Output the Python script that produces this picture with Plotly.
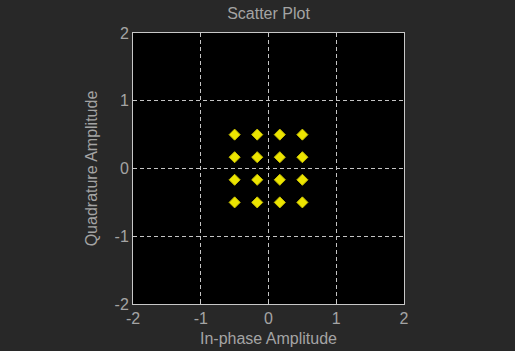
import plotly.graph_objects as go

# 16-QAM constellation points (in-phase, quadrature)
in_phase = [-0.5, -0.1667, 0.1667, 0.5,
            -0.5, -0.1667, 0.1667, 0.5,
            -0.5, -0.1667, 0.1667, 0.5,
            -0.5, -0.1667, 0.1667, 0.5]
quadrature = [0.5, 0.5, 0.5, 0.5,
              0.1667, 0.1667, 0.1667, 0.1667,
              -0.1667, -0.1667, -0.1667, -0.1667,
              -0.5, -0.5, -0.5, -0.5]
tick_vals = [-2, -1, 0, 1, 2]
tick_text = ["-2", "-1", "0", "1", "2"]

fg = "#a4a4a4"
fig = go.Figure()
fig.add_trace(go.Scatter(
    x=in_phase, y=quadrature, mode="markers",
    marker=dict(symbol="diamond", size=8.5, color="#ece400",
                line=dict(width=1, color="#c8c000")),
    showlegend=False,
))

axis_common = dict(
    range=[-2, 2], tickvals=tick_vals, ticktext=tick_text,
    showgrid=True, gridcolor="#c4c4c4", griddash="4px,3px", gridwidth=1,
    zeroline=False, showline=True, linecolor="#c8c8c8", linewidth=1,
    mirror=True, ticks="inside", ticklen=4, tickcolor="#c8c8c8",
    tickfont=dict(size=16, color=fg),
    title_font=dict(size=16, color=fg), automargin=False,
)

fig.update_layout(
    width=515, height=351,
    margin=dict(l=133, r=111, t=33, b=47),
    paper_bgcolor="#282828", plot_bgcolor="#000000",
    font=dict(family="Liberation Sans, Arial, sans-serif", color=fg),
    title=dict(text="Scatter Plot", x=0.5, xref="paper",
               y=1 - 13 / 351, yref="container", yanchor="middle",
               font=dict(size=16, color=fg)),
    xaxis=dict(axis_common, title=dict(text="In-phase Amplitude", standoff=6)),
    yaxis=dict(axis_common, title=dict(text="Quadrature Amplitude", standoff=12)),
)

fig.write_html("out.html", config={"displayModeBar": False},
               post_script="document.body.style.margin='0';document.body.style.background='#282828';")
